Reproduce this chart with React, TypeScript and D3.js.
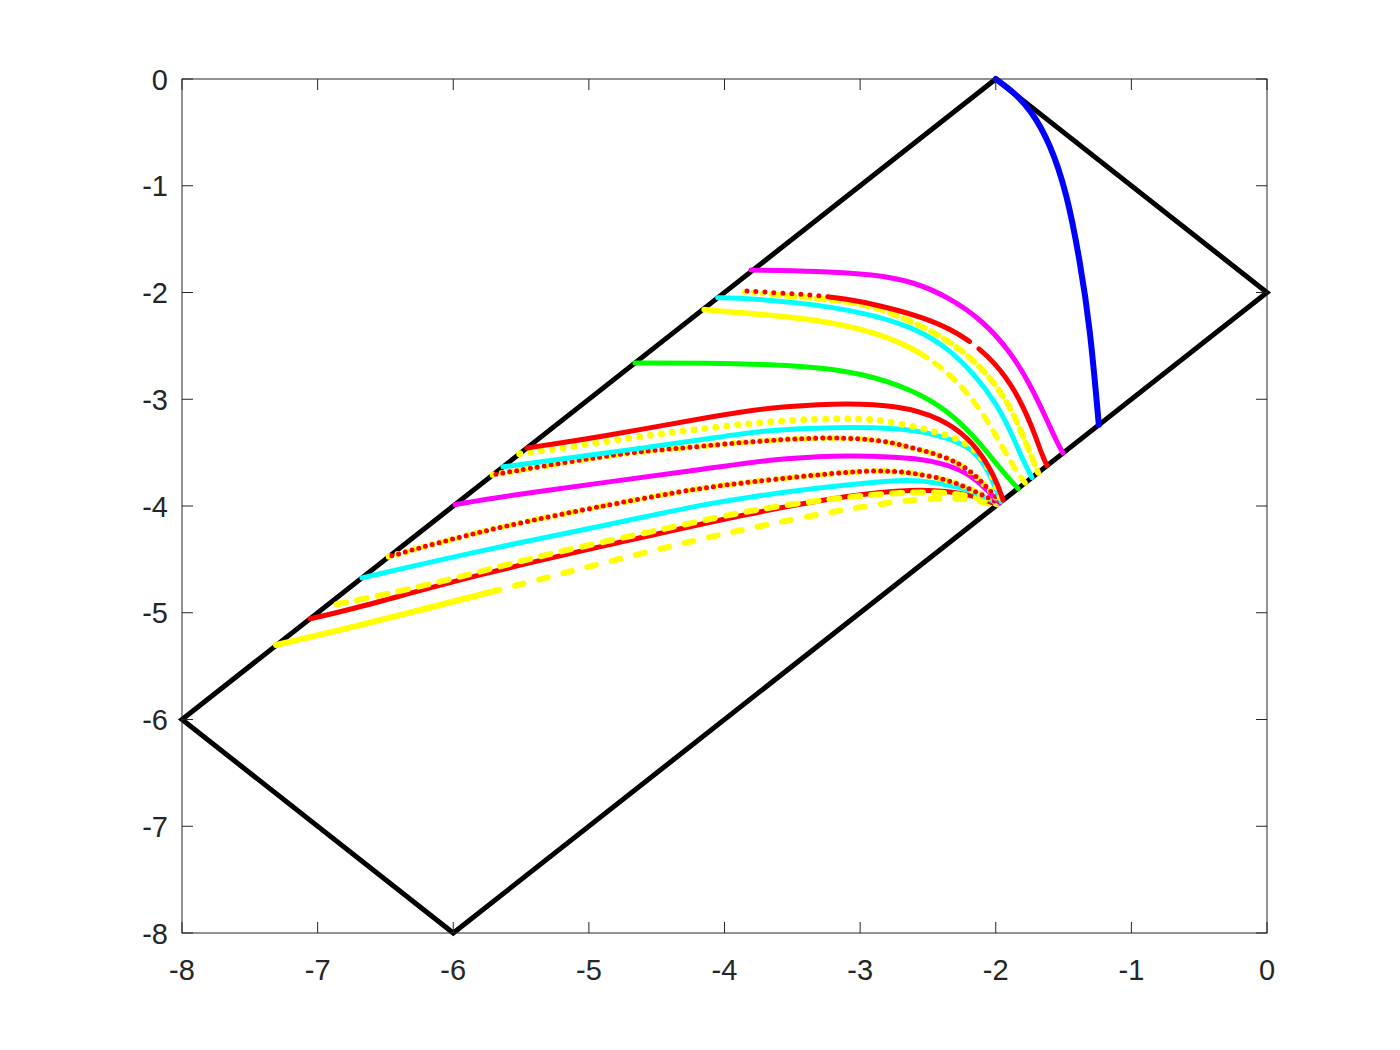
import React from "react";
import * as d3 from "d3";

type Pt = [number, number];

const xTicks = [-8, -7, -6, -5, -4, -3, -2, -1, 0];
const yTicks = [0, -1, -2, -3, -4, -5, -6, -7, -8];

const boundary: Pt[] = [[-2, 0], [0, -2], [-6, -8], [-8, -6], [-2, 0]];

const blueArc: Pt[] = [[-2.0, 0], [-1.87, -0.12], [-1.74, -0.29], [-1.6, -0.6], [-1.475, -1.07], [-1.38, -1.7], [-1.305, -2.32], [-1.24, -3.24]];

const magentaUpper: Pt[] = [[-3.805, -1.79], [-3.3, -1.8], [-2.9, -1.83], [-2.6, -1.9], [-2.34, -2.05], [-2.1, -2.26], [-1.9, -2.54], [-1.75, -2.85], [-1.62, -3.2], [-1.55, -3.4], [-1.504, -3.504]];

const redUpper: Pt[] = [[-3.834, -1.986], [-3.591, -2.005], [-3.347, -2.023], [-3.1, -2.06], [-2.853, -2.12], [-2.463, -2.258], [-2.212, -2.426], [-2.0, -2.66], [-1.85, -2.93], [-1.73, -3.26], [-1.66, -3.52], [-1.622, -3.622]];

const yellowUpperDots: Pt[] = [[-3.85, -1.995], [-3.347, -2.052], [-2.979, -2.098], [-2.684, -2.23], [-2.389, -2.417], [-2.19, -2.6], [-2.01, -2.84], [-1.88, -3.1], [-1.77, -3.43], [-1.688, -3.688]];

const cyanUpper: Pt[] = [[-4.05, -2.05], [-3.959, -2.045], [-3.465, -2.089], [-2.979, -2.183], [-2.61, -2.323], [-2.359, -2.511], [-2.153, -2.773], [-2.0, -3.03], [-1.89, -3.3], [-1.8, -3.57], [-1.733, -3.733]];

const yellowUpper: Pt[] = [[-4.151, -2.16], [-3.959, -2.183], [-3.465, -2.23], [-2.979, -2.333], [-2.61, -2.511], [-2.37, -2.73], [-2.2, -2.95], [-2.06, -3.2], [-1.95, -3.45], [-1.86, -3.65], [-1.784, -3.784]];

const greenLine: Pt[] = [[-4.66, -2.66], [-4.181, -2.66], [-3.443, -2.679], [-2.979, -2.754], [-2.61, -2.913], [-2.359, -3.101], [-2.15, -3.36], [-2.03, -3.55], [-1.92, -3.72], [-1.836, -3.836]];

const redMid: Pt[] = [[-5.456, -3.456], [-4.918, -3.354], [-4.033, -3.148], [-3.687, -3.082], [-3.2, -3.035], [-2.706, -3.054], [-2.4, -3.18], [-2.2, -3.36], [-2.06, -3.6], [-1.985, -3.8], [-1.946, -3.946]];

const yellowMidDots: Pt[] = [[-5.51, -3.51], [-5.043, -3.429], [-4.549, -3.335], [-4.129, -3.269], [-3.569, -3.194], [-3.075, -3.176], [-2.831, -3.194], [-2.485, -3.288], [-2.241, -3.382], [-2.1, -3.53], [-2.02, -3.72], [-1.955, -3.955]];

const cyanMid: Pt[] = [[-5.633, -3.633], [-4.918, -3.513], [-4.033, -3.354], [-3.687, -3.288], [-3.2, -3.26], [-2.706, -3.269], [-2.485, -3.316], [-2.241, -3.41], [-2.116, -3.54], [-2.03, -3.74], [-1.96, -3.96]];

const mixedMid: Pt[] = [[-5.707, -3.707], [-5.161, -3.588], [-4.675, -3.494], [-4.306, -3.457], [-3.687, -3.382], [-3.2, -3.354], [-2.831, -3.382], [-2.61, -3.457], [-2.359, -3.541], [-2.19, -3.663], [-2.065, -3.822], [-1.965, -3.965]];

const magentaLower: Pt[] = [[-5.987, -3.987], [-5.582, -3.897], [-4.033, -3.635], [-3.687, -3.569], [-3.2, -3.522], [-2.706, -3.541], [-2.485, -3.569], [-2.241, -3.663], [-2.116, -3.785], [-1.97, -3.97]];

const mixedLow: Pt[] = [[-6.474, -4.474], [-5.781, -4.225], [-4.793, -3.972], [-4.181, -3.831], [-3.812, -3.775], [-3.2, -3.691], [-2.853, -3.663], [-2.61, -3.69], [-2.359, -3.75], [-2.168, -3.85], [-1.975, -3.975]];

const cyanLow: Pt[] = [[-6.673, -4.673], [-5.781, -4.412], [-4.793, -4.159], [-4.181, -3.99], [-3.812, -3.916], [-3.443, -3.85], [-2.706, -3.747], [-2.485, -3.77], [-2.241, -3.83], [-2.1, -3.9], [-1.98, -3.98]];

const yellowLowDash: Pt[] = [[-6.86, -4.92], [-6.518, -4.834], [-5.972, -4.674], [-5.287, -4.44], [-4.306, -4.178], [-3.812, -4.037], [-3.2, -3.93], [-2.706, -3.87], [-2.35, -3.87], [-2.1, -3.93], [-1.985, -3.985]];

const redLow: Pt[] = [[-7.056, -5.056], [-6.761, -4.974], [-5.781, -4.628], [-4.793, -4.347], [-3.812, -4.066], [-3.075, -3.897], [-2.61, -3.84], [-2.264, -3.87], [-2.08, -3.94], [-1.99, -3.99]];

const yellowBottom: Pt[] = [[-7.307, -5.302], [-6.761, -5.143], [-5.434, -4.712], [-5.043, -4.581], [-4.306, -4.347], [-3.812, -4.206], [-3.2, -4.05], [-2.706, -3.95], [-2.35, -3.92], [-2.12, -3.95], [-1.995, -3.995]];

type Spec = { data: Pt[]; color: string; width: number; dash?: string; offset?: number };

const rep = (n: number, s: string) => Array(n).fill(s).join(" ");

const series: Spec[] = [
  { data: yellowBottom, color: "#ffff00", width: 6, dash: "230 " + rep(40, "16 9") },
  { data: redLow, color: "#ff0000", width: 5 },
  { data: yellowLowDash, color: "#ffff00", width: 6, dash: "10 11" },
  { data: cyanLow, color: "#00ffff", width: 5 },
  { data: mixedLow, color: "#ffff00", width: 6.5, dash: "0 9" },
  { data: mixedLow, color: "#ff0000", width: 5, dash: "0 7", offset: 4 },
  { data: magentaLower, color: "#ff00ff", width: 5 },
  { data: mixedMid, color: "#ffff00", width: 6.5, dash: "0 9" },
  { data: mixedMid, color: "#ff0000", width: 5, dash: "0 7", offset: 4 },
  { data: cyanMid, color: "#00ffff", width: 5 },
  { data: yellowMidDots, color: "#ffff00", width: 7, dash: "0 11" },
  { data: redMid, color: "#ff0000", width: 5 },
  { data: greenLine, color: "#00ff00", width: 5 },
  { data: yellowUpper, color: "#ffff00", width: 5.5, dash: "230 " + rep(40, "10 8") },
  { data: cyanUpper, color: "#00ffff", width: 5 },
  { data: yellowUpperDots, color: "#ffff00", width: 6, dash: "0 9 0 9 0 9 " + rep(40, "8 7") },
  { data: redUpper, color: "#ff0000", width: 5, dash: rep(9, "0 9") + " 150 12 3000" },
  { data: magentaUpper, color: "#ff00ff", width: 5 },
  { data: blueArc, color: "#0000ff", width: 6 },
];

const W = 1400;
const H = 1050;
const L = 182, R = 1267, T = 79, B = 933;
const AX = "#262626";
const FONT = "'Liberation Sans', Arial, Helvetica, sans-serif";
const FS = 29;

export default function App() {
  const x = d3.scaleLinear().domain([-8, 0]).range([L, R]);
  const y = d3.scaleLinear().domain([-8, 0]).range([B, T]);
  const smooth = d3.line<Pt>().x((d) => x(d[0])).y((d) => y(d[1])).curve(d3.curveBasis);
  const straight = d3.line<Pt>().x((d) => x(d[0])).y((d) => y(d[1]));
  const tl = 11;

  return (
    <svg width={W} height={H} style={{ position: "absolute", left: 0, top: 0, background: "#fff" }}>
      <rect x={0} y={0} width={W} height={H} fill="#fff" />
      <path d={straight(boundary) || ""} fill="none" stroke="#000" strokeWidth={5} strokeLinejoin="miter" />
      {series.map((s, i) => (
        <path
          key={i}
          d={smooth(s.data) || ""}
          fill="none"
          stroke={s.color}
          strokeWidth={s.width}
          strokeLinecap="round"
          strokeLinejoin="round"
          strokeDasharray={s.dash}
          strokeDashoffset={s.offset}
        />
      ))}
      <rect x={L} y={T} width={R - L} height={B - T} fill="none" stroke={AX} strokeWidth={1} />
      {xTicks.map((t) => (
        <g key={"x" + t}>
          <line x1={x(t)} x2={x(t)} y1={B} y2={B - tl} stroke={AX} strokeWidth={1} />
          <line x1={x(t)} x2={x(t)} y1={T} y2={T + tl} stroke={AX} strokeWidth={1} />
          <text x={x(t)} y={B + 47} textAnchor="middle" fontFamily={FONT} fontSize={FS} fill={AX}>
            {String(t)}
          </text>
        </g>
      ))}
      {yTicks.map((t) => (
        <g key={"y" + t}>
          <line x1={L} x2={L + tl} y1={y(t)} y2={y(t)} stroke={AX} strokeWidth={1} />
          <line x1={R} x2={R - tl} y1={y(t)} y2={y(t)} stroke={AX} strokeWidth={1} />
          <text x={168} y={y(t) + 10.5} textAnchor="end" fontFamily={FONT} fontSize={FS} fill={AX}>
            {String(t)}
          </text>
        </g>
      ))}
    </svg>
  );
}
